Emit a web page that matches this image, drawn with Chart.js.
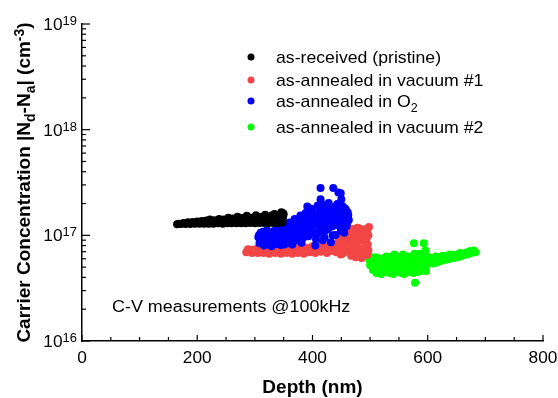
<!DOCTYPE html>
<html>
<head>
<meta charset="utf-8">
<script src="https://cdn.jsdelivr.net/npm/chart.js@4.4.0/dist/chart.umd.min.js"></script>
<style>
html, body { margin: 0; padding: 0; background: #fff; }
#wrap { width: 558px; height: 398px; }
</style>
</head>
<body>
<div id="wrap"><canvas id="cvChart"></canvas></div>
<script>
// depth in nm, carrier concentration in cm^-3
const pristineDepth = [165, 172, 180, 188, 196, 204, 212, 220, 228, 236, 244, 252, 260, 268, 276, 284, 292, 300, 308, 316, 324, 332, 340, 348,
  168, 176, 184, 192, 200, 208, 216, 222, 230, 238, 246, 254, 262, 270, 278, 286, 294, 302, 310, 318, 326, 334, 342, 346, 350,
  220, 250, 280, 310, 340,
  232, 240, 248, 256, 264, 272, 280, 288, 296, 304, 312, 320, 328, 336, 344, 349,
  290, 300, 310, 320, 330, 340, 348, 316, 330, 344, 349];
const pristineConc = [1.27e17, 1.28e17, 1.28e17, 1.28e17, 1.29e17, 1.29e17, 1.29e17, 1.29e17, 1.29e17, 1.30e17, 1.29e17, 1.30e17, 1.30e17, 1.30e17, 1.30e17, 1.30e17, 1.31e17, 1.30e17, 1.31e17, 1.31e17, 1.31e17, 1.31e17, 1.31e17, 1.32e17,
  1.29e17, 1.31e17, 1.33e17, 1.34e17, 1.35e17, 1.37e17, 1.38e17, 1.41e17, 1.39e17, 1.43e17, 1.41e17, 1.47e17, 1.44e17, 1.50e17, 1.46e17, 1.53e17, 1.47e17, 1.55e17, 1.49e17, 1.57e17, 1.50e17, 1.59e17, 1.52e17, 1.65e17, 1.58e17,
  1.34e17, 1.36e17, 1.38e17, 1.39e17, 1.42e17,
  1.35e17, 1.37e17, 1.38e17, 1.40e17, 1.39e17, 1.42e17, 1.41e17, 1.44e17, 1.42e17, 1.45e17, 1.44e17, 1.46e17, 1.45e17, 1.47e17, 1.46e17, 1.50e17,
  1.36e17, 1.37e17, 1.38e17, 1.38e17, 1.39e17, 1.39e17, 1.40e17, 1.52e17, 1.55e17, 1.58e17, 1.62e17];

const vac1Depth = [285, 290, 295, 300, 305, 310, 315, 320, 325, 330, 335, 340, 345, 350, 355, 360, 365, 370, 375, 380, 385, 390, 395, 400, 405, 410, 415, 420, 425, 430,
  434, 438, 441, 444, 447, 450, 452, 455, 458, 460, 463, 465, 467, 469, 471, 473, 475, 477, 479, 481, 482, 483, 485, 487, 489, 491, 493, 494, 495, 496, 497, 498,
  288, 296, 304, 312, 320, 328, 336, 344, 352, 360, 368, 376, 384, 392, 400, 408, 416, 424, 432,
  440, 446, 449, 453, 456, 459, 462, 466, 468, 470, 474, 476, 478, 480, 484, 486, 488, 490, 492, 495, 497, 478, 470];
const vac1Conc = [6.9e16, 7.1e16, 6.8e16, 7.0e16, 6.8e16, 7.1e16, 6.8e16, 7.0e16, 6.7e16, 7.2e16, 6.8e16, 7.0e16, 6.7e16, 7.2e16, 6.8e16, 7.1e16, 6.7e16, 7.3e16, 6.8e16, 7.1e16, 6.7e16, 7.4e16, 6.9e16, 7.2e16, 6.8e16, 7.5e16, 7.0e16, 7.3e16, 6.8e16, 7.7e16,
  7.1e16, 8.0e16, 6.9e16, 8.5e16, 7.4e16, 9.0e16, 6.7e16, 8.0e16, 9.5e16, 7.2e16, 8.6e16, 1.02e17, 6.4e16, 7.8e16, 9.2e16, 1.08e17, 6.2e16, 8.4e16, 9.8e16, 1.12e17, 1.16e17, 7.0e16, 6.1e16, 8.9e16, 1.05e17, 7.6e16, 1.15e17, 9.4e16, 6.5e16, 8.2e16, 1.0e17, 1.2e17,
  7.4e16, 7.3e16, 7.5e16, 7.4e16, 7.6e16, 7.4e16, 7.6e16, 7.5e16, 7.7e16, 7.5e16, 7.7e16, 7.6e16, 7.8e16, 7.6e16, 7.9e16, 7.7e16, 8.0e16, 7.8e16, 8.2e16,
  7.5e16, 9.2e16, 6.6e16, 1.0e17, 7.0e16, 8.8e16, 1.06e17, 9.6e16, 1.1e17, 7.0e16, 8.0e16, 1.04e17, 7.3e16, 9.0e16, 1.0e17, 7.5e16, 1.1e17, 9.0e16, 6.8e16, 1.08e17, 7.2e16, 1.18e17, 1.15e17];

const o2Depth = [306, 308, 310, 313, 316, 318, 321, 323, 326, 329, 331, 334, 337, 339, 342, 345, 347, 350, 352, 355, 357, 360, 362,
  365, 367, 369, 371, 374, 376, 379, 381, 383, 386, 388, 391, 393, 396, 398, 400, 403, 405, 407, 409, 411, 413, 414, 414, 414, 416, 418,
  420, 422, 424, 426, 428, 430, 432, 434, 436, 438, 440, 441, 443, 445, 446, 448, 449, 450, 452, 452, 454, 455, 457, 459, 461, 463,
  420, 425, 430, 435, 440, 445, 450, 456, 460,
  307, 311, 314, 317, 320, 324, 327, 330, 333, 336, 340, 343, 346, 349, 351, 354, 356, 358, 361, 363,
  366, 368, 370, 372, 375, 377, 380, 382, 384, 387, 389, 390, 392, 394, 397, 399, 401, 402, 404, 406, 408, 410, 412, 415, 417, 419,
  421, 423, 425, 427, 429, 431, 433, 435, 437, 439, 442, 444, 447, 449, 451, 453, 456, 458, 460, 462];
const o2Conc = [9.6e16, 8.4e16, 1.06e17, 9.0e16, 8.0e16, 1.02e17, 1.12e17, 8.7e16, 9.6e16, 7.9e16, 1.04e17, 9.1e16, 8.3e16, 1.18e17, 9.7e16, 8.1e16, 1.09e17, 1.26e17, 9.0e16, 8.4e16, 1.13e17, 1.32e17, 1.0e17,
  8.2e16, 1.22e17, 1.43e17, 9.5e16, 1.11e17, 1.38e17, 1.54e17, 8.5e16, 1.06e17, 1.27e17, 1.63e17, 1.87e17, 9.8e16, 1.17e17, 1.78e17, 1.32e17, 1.57e17, 8.0e16, 1.06e17, 1.92e17, 1.21e17, 1.65e17, 2.8e17, 2.2e17, 1.85e17, 1.48e17, 9.0e16,
  1.36e17, 1.1e17, 1.62e17, 1.83e17, 2.02e17, 1.46e17, 8.6e16, 1.21e17, 2.8e17, 1.72e17, 1.01e17, 1.51e17, 1.98e17, 2.55e17, 1.26e17, 1.66e17, 2.5e17, 2.2e17, 1.9e17, 1.36e17, 1.7e17, 1.06e17, 1.56e17, 1.22e17, 1.65e17, 1.4e17,
  1.95e17, 1.28e17, 1.75e17, 1.5e17, 1.82e17, 1.38e17, 1.15e17, 1.8e17, 1.62e17,
  1.0e17, 9.2e16, 1.08e17, 8.8e16, 9.8e16, 1.05e17, 8.5e16, 9.3e16, 1.1e17, 9.9e16, 8.6e16, 1.05e17, 9.4e16, 1.15e17, 8.2e16, 1.0e17, 1.22e17, 9.2e16, 1.1e17, 8.8e16,
  1.05e17, 1.3e17, 1.15e17, 9.0e16, 1.25e17, 1.02e17, 1.35e17, 1.2e17, 9.5e16, 1.45e17, 1.1e17, 1.3e17, 1.58e17, 1.22e17, 1.4e17, 1.05e17, 1.68e17, 1.25e17, 1.45e17, 9.2e16, 1.58e17, 1.35e17, 1.05e17, 1.72e17, 1.25e17, 1.55e17,
  9.5e16, 1.42e17, 1.7e17, 1.15e17, 1.55e17, 1.3e17, 1.85e17, 1.0e17, 1.4e17, 1.6e17, 1.25e17, 1.75e17, 1.45e17, 1.1e17, 1.6e17, 1.25e17, 1.45e17, 1.75e17, 1.3e17, 1.55e17];

const vac2Depth = [497, 498, 500, 503, 505, 508, 511, 514, 517, 519, 522, 525, 528, 531, 534, 537, 540, 542, 545, 548, 551, 554, 557, 559, 562, 565, 568, 571, 574, 576, 578, 580, 583, 586, 589, 591, 593, 595, 597, 600,
  603, 606, 609, 612, 615, 618, 621, 624, 627, 630, 633, 636, 639, 642, 645, 648, 651, 654, 657, 660, 663, 666, 669, 672, 675, 678, 681, 683,
  499, 502, 506, 509, 512, 515, 518, 521, 524, 527, 530, 533, 536, 539, 541, 544, 547, 550, 553, 556, 558, 561, 564, 567, 570, 573, 575, 577, 579, 582, 584, 587, 590, 592, 594, 596, 598, 599,
  602, 608, 614, 620, 626, 632, 638, 644, 650, 656, 662, 668, 674, 680];
const vac2Conc = [6.6e16, 5.9e16, 5.2e16, 6.0e16, 4.7e16, 5.5e16, 4.4e16, 6.1e16, 5.0e16, 4.3e16, 5.6e16, 4.6e16, 6.3e16, 5.1e16, 4.4e16, 5.7e16, 4.3e16, 6.6e16, 5.2e16, 4.6e16, 6.0e16, 4.4e16, 6.6e16, 4.3e16, 5.4e16, 6.1e16, 4.8e16, 5.6e16, 4.5e16, 8.4e16, 3.55e16, 6.1e16, 5.0e16, 6.7e16, 4.6e16, 5.7e16, 8.4e16, 6.4e16, 4.6e16, 5.5e16,
  5.6e16, 6.1e16, 5.4e16, 6.0e16, 5.5e16, 6.2e16, 5.7e16, 6.0e16, 5.8e16, 6.3e16, 5.9e16, 6.2e16, 6.0e16, 6.4e16, 6.1e16, 6.5e16, 6.2e16, 6.6e16, 6.3e16, 6.6e16, 6.5e16, 6.8e16, 6.6e16, 6.9e16, 6.8e16, 7.0e16, 7.0e16, 6.9e16,
  6.3e16, 5.6e16, 5.1e16, 6.2e16, 4.9e16, 5.4e16, 4.6e16, 6.0e16, 5.2e16, 4.5e16, 5.8e16, 4.9e16, 6.2e16, 5.0e16, 4.6e16, 5.9e16, 6.3e16, 4.9e16, 5.5e16, 4.7e16, 5.9e16, 6.4e16, 5.0e16, 4.5e16, 6.3e16, 5.3e16, 4.4e16, 6.7e16, 5.1e16, 4.5e16, 6.0e16, 5.3e16, 6.4e16, 4.9e16, 5.9e16, 7.2e16, 5.2e16, 6.2e16,
  6.2e16, 5.9e16, 6.3e16, 6.1e16, 6.4e16, 6.3e16, 6.6e16, 6.5e16, 6.6e16, 6.8e16, 6.7e16, 6.9e16, 7.1e16, 7.2e16];

const xTicks = [0, 200, 400, 600, 800];
const yDecades = [16, 17, 18, 19];

const FONT = "'Liberation Sans', Arial, sans-serif";

function toPoints(xs, ys) {
  return xs.map((x, i) => ({ x: x, y: ys[i] }));
}

// parts: [text, mode]  mode 0 normal, 1 superscript, -1 subscript
function drawRich(ctx, parts, x, y, size, bold, sx, align) {
  const fontOf = m => (bold ? 'bold ' : '') + (m === 0 ? size : Math.round(size * 0.72)) + 'px ' + FONT;
  ctx.save();
  ctx.translate(x, y);
  ctx.scale(sx, 1);
  ctx.textBaseline = 'alphabetic';
  ctx.textAlign = 'left';
  let w = 0;
  parts.forEach(p => { ctx.font = fontOf(p[1]); w += ctx.measureText(p[0]).width; });
  let cx = align === 'right' ? -w : (align === 'center' ? -w / 2 : 0);
  parts.forEach(p => {
    ctx.font = fontOf(p[1]);
    const dy = p[1] === 1 ? -size * 0.32 : (p[1] === -1 ? size * 0.28 : 0);
    ctx.fillText(p[0], cx, dy);
    cx += ctx.measureText(p[0]).width;
  });
  ctx.restore();
}

const legendParts = [
  [['as-received (pristine)', 0]],
  [['as-annealed in vacuum #1', 0]],
  [['as-annealed in O', 0], ['2', -1]],
  [['as-annealed in vacuum #2', 0]]
];
const legendBaselines = [63, 86, 107, 133];

const decorPlugin = {
  id: 'decor',
  afterDraw(chart) {
    const ctx = chart.ctx;
    const xs = chart.scales.x, ys = chart.scales.y;
    const area = chart.chartArea;
    ctx.save();
    ctx.strokeStyle = '#000';
    ctx.fillStyle = '#000';
    ctx.lineWidth = 1.2;
    // inward ticks, x
    for (let v = 0; v <= 800; v += 50) {
      const px = xs.getPixelForValue(v);
      const len = xTicks.includes(v) ? 6 : 4;
      ctx.beginPath();
      ctx.moveTo(px, area.bottom);
      ctx.lineTo(px, area.bottom - len);
      ctx.stroke();
    }
    // inward ticks, y (log)
    yDecades.forEach((d, i) => {
      const py = ys.getPixelForValue(Math.pow(10, d));
      ctx.beginPath();
      ctx.moveTo(area.left, py);
      ctx.lineTo(area.left + 8, py);
      ctx.stroke();
      if (i < yDecades.length - 1) {
        for (let k = 2; k <= 9; k++) {
          const pm = ys.getPixelForValue(k * Math.pow(10, d));
          ctx.beginPath();
          ctx.moveTo(area.left, pm);
          ctx.lineTo(area.left + 4, pm);
          ctx.stroke();
        }
      }
    });
    // tick labels
    xTicks.forEach(v => {
      drawRich(ctx, [[String(v), 0]], xs.getPixelForValue(v), area.bottom + 22, 16, false, 1.08, 'center');
    });
    yDecades.forEach(d => {
      const py = ys.getPixelForValue(Math.pow(10, d));
      drawRich(ctx, [['10', 0], [String(d), 1]], area.left - 5, py + 6, 16, false, 1.08, 'right');
    });
    // axis titles
    drawRich(ctx, [['Depth (nm)', 0]], (area.left + area.right) / 2, 393, 19, true, 1, 'center');
    ctx.save();
    ctx.translate(30, (area.top + area.bottom) / 2);
    ctx.rotate(-Math.PI / 2);
    drawRich(ctx, [['Carrier Concentration |N', 0], ['d', -1], ['-N', 0], ['a', -1], ['| (cm', 0], ['-3', 1], [')', 0]], 0, 0, 19, true, 1, 'center');
    ctx.restore();
    // annotation
    drawRich(ctx, [['C-V measurements @100kHz', 0]], 112, 312, 16, false, 1.12, 'left');
    // legend
    chart.data.datasets.forEach((ds, i) => {
      const by = legendBaselines[i];
      ctx.fillStyle = ds.backgroundColor;
      ctx.beginPath();
      ctx.arc(251, by - 6, 3.5, 0, Math.PI * 2);
      ctx.fill();
      ctx.fillStyle = '#000';
      drawRich(ctx, legendParts[i], 276, by, 17, false, 1.04, 'left');
    });
    ctx.restore();
  }
};

const cvChart = new Chart(document.getElementById('cvChart').getContext('2d'), {
  type: 'scatter',
  data: {
    datasets: [
      { label: 'as-received (pristine)', data: toPoints(pristineDepth, pristineConc), backgroundColor: '#000000', order: 0 },
      { label: 'as-annealed in vacuum #1', data: toPoints(vac1Depth, vac1Conc), backgroundColor: '#f24646', order: 2 },
      { label: 'as-annealed in O\u2082', data: toPoints(o2Depth, o2Conc), backgroundColor: '#0000ff', order: 1 },
      { label: 'as-annealed in vacuum #2', data: toPoints(vac2Depth, vac2Conc), backgroundColor: '#00ff00', order: 3 }
    ]
  },
  options: {
    responsive: true,
    maintainAspectRatio: false,
    animation: false,
    elements: { point: { radius: 4, borderWidth: 0, hoverRadius: 4 } },
    layout: { padding: { left: 0, top: 24, right: 15, bottom: 0 } },
    plugins: { legend: { display: false }, tooltip: { enabled: false } },
    scales: {
      x: {
        type: 'linear', min: 0, max: 800,
        grid: { display: false },
        border: { display: true, color: '#000', width: 1.5 },
        ticks: { display: false },
        afterFit: s => { s.height = 57; }
      },
      y: {
        type: 'logarithmic', min: 1e16, max: 1e19,
        grid: { display: false },
        border: { display: true, color: '#000', width: 1.5 },
        ticks: { display: false },
        afterFit: s => { s.width = 82; }
      }
    }
  },
  plugins: [decorPlugin]
});
</script>
</body>
</html>
